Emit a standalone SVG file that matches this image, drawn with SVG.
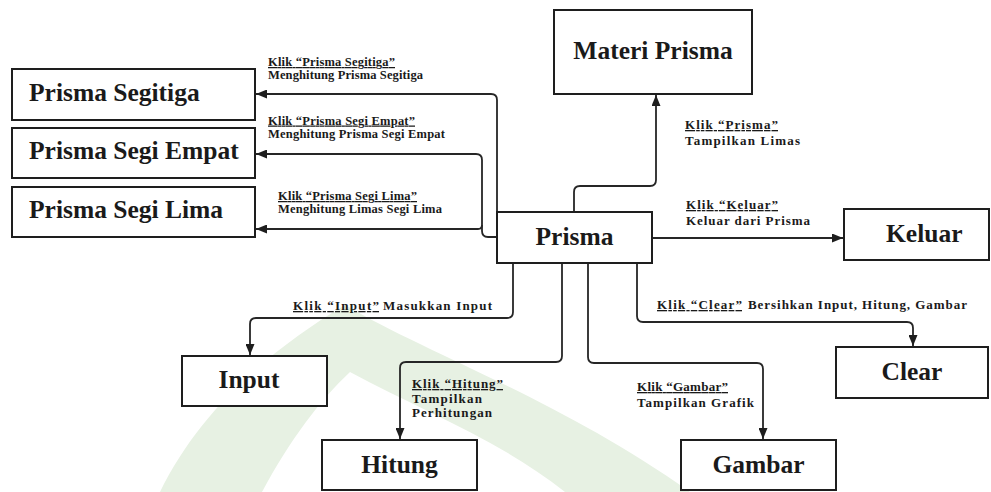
<svg xmlns="http://www.w3.org/2000/svg" width="991" height="492" viewBox="0 0 991 492">
  <style>
    .box { fill: #ffffff; stroke: #1e1e1e; stroke-width: 2; }
    .title { font-family: "Liberation Serif", "Times New Roman", serif; font-weight: bold; font-size: 25.5px; fill: #1a1a1a; }
    .lbl { font-family: "Liberation Serif", "Times New Roman", serif; font-weight: bold; font-size: 12.5px; fill: #1a1a1a; }
    .lbl2 { font-family: "Liberation Serif", "Times New Roman", serif; font-weight: bold; font-size: 13px; fill: #1a1a1a; }
    .u { text-decoration: underline; }
    .link { fill: none; stroke: #262626; stroke-width: 1.8; }
  </style>
  <defs>
    <marker id="arrow" markerUnits="userSpaceOnUse" markerWidth="11" markerHeight="9" refX="11" refY="4.5" orient="auto">
      <path d="M0,0 L11,4.5 L0,9 Z" fill="#1e1e1e"/>
    </marker>
  </defs>

  <rect width="991" height="492" fill="#ffffff"/>

  <!-- faint background emblem -->
  <g id="emblem">
    <path d="M160,492 C200,410 270,350 345,305 C430,355 560,400 690,492 Z" fill="#e7f1e3"/>
    <path d="M262,492 C290,440 320,400 350,372 C420,410 500,440 565,492 Z" fill="#ffffff"/>
  </g>

  <!-- connectors -->
  <g id="connectors">
    <path class="link" d="M497,212 V100 Q497,94 491,94 H256" marker-end="url(#arrow)"/>
    <path class="link" d="M497,237 H488 Q482,237 482,231 V160 Q482,154 476,154 H256" marker-end="url(#arrow)"/>
    <path class="link" d="M482,225 Q482,229 478,229 H256" marker-end="url(#arrow)"/>
    <path class="link" d="M574,212 V192 Q574,186 580,186 H650 Q656,186 656,180 V95" marker-end="url(#arrow)"/>
    <path class="link" d="M652,238 H843" marker-end="url(#arrow)"/>
    <path class="link" d="M513,263 V312 Q513,318 507,318 H256 Q250,318 250,324 V355" marker-end="url(#arrow)"/>
    <path class="link" d="M562,263 V356 Q562,362 556,362 H406 Q400,362 400,368 V439" marker-end="url(#arrow)"/>
    <path class="link" d="M588,263 V357 Q588,363 594,363 H757 Q763,363 763,369 V439" marker-end="url(#arrow)"/>
    <path class="link" d="M637,263 V316 Q637,322 643,322 H907 Q913,322 913,328 V346" marker-end="url(#arrow)"/>
  </g>

  <!-- connector labels -->
  <g id="labels">
    <text class="lbl" x="268" y="66"><tspan class="u" textLength="127">Klik “Prisma Segitiga”</tspan></text>
    <text class="lbl" x="268" y="79" textLength="155">Menghitung Prisma Segitiga</text>
    <text class="lbl" x="268" y="124.5"><tspan class="u" textLength="147">Klik “Prisma Segi Empat”</tspan></text>
    <text class="lbl" x="268" y="137.5" textLength="177">Menghitung Prisma Segi Empat</text>
    <text class="lbl" x="278" y="200"><tspan class="u" textLength="139">Klik “Prisma Segi Lima”</tspan></text>
    <text class="lbl" x="278" y="213" textLength="164">Menghitung Limas Segi Lima</text>

    <text class="lbl2" x="685" y="129"><tspan class="u" textLength="93">Klik “Prisma”</tspan></text>
    <text class="lbl2" x="685" y="145" textLength="115">Tampilkan Limas</text>
    <text class="lbl2" x="686" y="209"><tspan class="u" textLength="92">Klik “Keluar”</tspan></text>
    <text class="lbl2" x="686" y="225" textLength="124">Keluar dari Prisma</text>

    <text class="lbl2" x="293" y="310"><tspan class="u" textLength="86">Klik “Input”</tspan></text>
    <text class="lbl2" x="383" y="310" textLength="109">Masukkan Input</text>
    <text class="lbl2" x="657" y="309"><tspan class="u" textLength="85">Klik “Clear”</tspan></text>
    <text class="lbl2" x="748" y="309" textLength="219">Bersihkan Input, Hitung, Gambar</text>

    <text class="lbl2" x="412" y="388"><tspan class="u" textLength="91">Klik “Hitung”</tspan></text>
    <text class="lbl2" x="412" y="402.5" textLength="70">Tampilkan</text>
    <text class="lbl2" x="412" y="417" textLength="80">Perhitungan</text>
    <text class="lbl2" x="637" y="391"><tspan class="u" textLength="91">Klik “Gambar”</tspan></text>
    <text class="lbl2" x="637" y="407" textLength="117">Tampilkan Grafik</text>
  </g>

  <!-- nodes -->
  <g id="node-segitiga">
    <rect class="box" x="12" y="69" width="243" height="51"/>
    <text class="title" x="29" y="101">Prisma Segitiga</text>
  </g>
  <g id="node-segiempat">
    <rect class="box" x="12" y="128" width="243" height="50"/>
    <text class="title" x="29" y="159">Prisma Segi Empat</text>
  </g>
  <g id="node-segilima">
    <rect class="box" x="12" y="187" width="243" height="50"/>
    <text class="title" x="29" y="218">Prisma Segi Lima</text>
  </g>
  <g id="node-materi">
    <rect class="box" x="554" y="10" width="198" height="84"/>
    <text class="title" x="653" y="59" text-anchor="middle">Materi Prisma</text>
  </g>
  <g id="node-prisma">
    <rect class="box" x="497" y="212" width="155" height="51"/>
    <text class="title" x="574.5" y="245" text-anchor="middle">Prisma</text>
  </g>
  <g id="node-keluar">
    <rect class="box" x="844" y="209" width="145" height="51"/>
    <text class="title" x="886" y="242">Keluar</text>
  </g>
  <g id="node-clear">
    <rect class="box" x="836" y="347" width="152" height="51"/>
    <text class="title" x="912" y="380" text-anchor="middle">Clear</text>
  </g>
  <g id="node-input">
    <rect class="box" x="182" y="356" width="145" height="50"/>
    <text class="title" x="249" y="388" text-anchor="middle">Input</text>
  </g>
  <g id="node-hitung">
    <rect class="box" x="322" y="440" width="155" height="50"/>
    <text class="title" x="399.5" y="473" text-anchor="middle">Hitung</text>
  </g>
  <g id="node-gambar">
    <rect class="box" x="681" y="440" width="155" height="50"/>
    <text class="title" x="758.5" y="473" text-anchor="middle">Gambar</text>
  </g>
</svg>
